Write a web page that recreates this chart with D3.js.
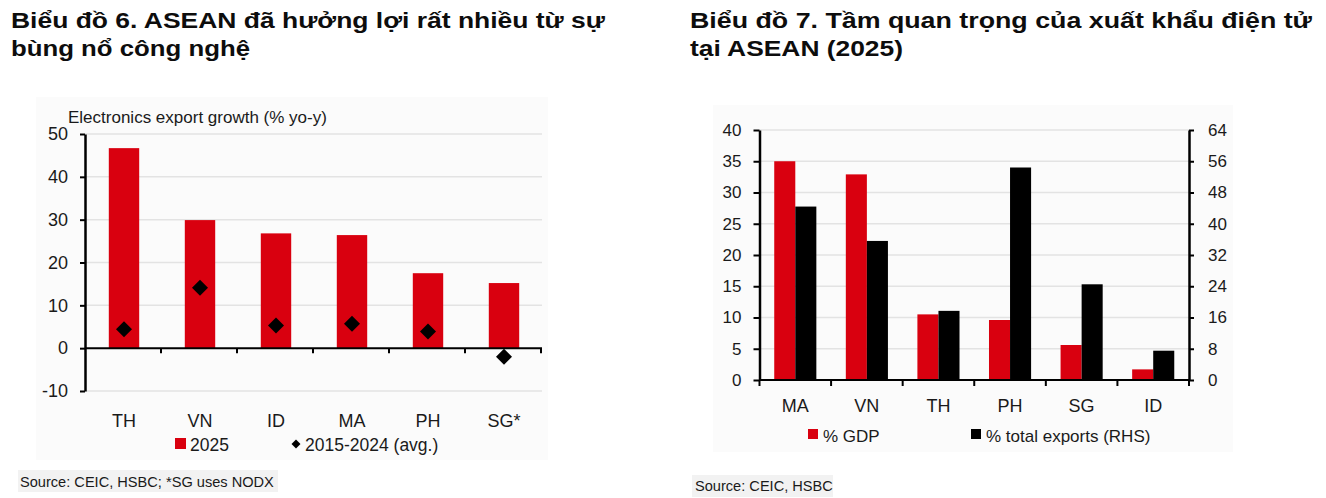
<!DOCTYPE html>
<html><head><meta charset="utf-8">
<script src="https://cdn.jsdelivr.net/npm/d3@7"></script>
<style>
body{margin:0;background:#fff}
svg{display:block}
text{font-family:"Liberation Sans",Arial,sans-serif;fill:#1a1a1a}
.title{font-family:"Liberation Sans",Arial,sans-serif;font-weight:700;font-size:22.5px;fill:#0d0d0d}
</style>
</head><body>
<svg id="c" width="1326" height="498"></svg>
<script>
// ---------- data ----------
const cats1 = ["TH", "VN", "ID", "MA", "PH", "SG*"];
const growth2025 = [46.7, 29.9, 26.8, 26.4, 17.5, 15.2];
const avg2015_2024 = [4.4, 14.1, 5.3, 5.7, 3.9, -2.0];
const yTicks1 = [-10, 0, 10, 20, 30, 40, 50];

const cats2 = ["MA", "VN", "TH", "PH", "SG", "ID"];
const pctGDP = [35.0, 32.9, 10.5, 9.6, 5.6, 1.7];
const pctExports = [44.4, 35.6, 17.7, 54.4, 24.5, 7.5];
const yTicks2L = [0, 5, 10, 15, 20, 25, 30, 35, 40];
const yTicks2R = [0, 8, 16, 24, 32, 40, 48, 56, 64];

const title1 = ["Biểu đồ 6. ASEAN đã hưởng lợi rất nhiều từ sự", "bùng nổ công nghệ"];
const title2 = ["Biểu đồ 7. Tầm quan trọng của xuất khẩu điện tử", "tại ASEAN (2025)"];
const axisTitle1 = "Electronics export growth (% yo-y)";
const legend1 = ["2025", "2015-2024 (avg.)"];
const legend2 = ["% GDP", "% total exports (RHS)"];
const source1 = "Source: CEIC, HSBC; *SG uses NODX";
const source2 = "Source: CEIC, HSBC";

const RED = "#d9000f", BLACK = "#000", GRID = "#e3e3e3";
const fmt = d => String(d);

const svg = d3.select("#c");
svg.append("rect").attr("width", 1326).attr("height", 498).attr("fill", "#fff");

// panel backgrounds
svg.append("rect").attr("x", 36).attr("y", 97).attr("width", 512).attr("height", 363).attr("fill", "#fbfbfb");
svg.append("rect").attr("x", 713).attr("y", 105).attr("width", 520).attr("height", 347).attr("fill", "#fbfbfb");

// titles
function title(lines, x, widths) {
  lines.forEach((t, i) => svg.append("text").attr("class", "title")
    .attr("x", x).attr("y", 28 + i * 28)
    .attr("textLength", widths[i]).attr("lengthAdjust", "spacingAndGlyphs").text(t));
}
title(title1, 11, [594, 239]);
title(title2, 690, [622, 213]);

// ---------- Chart 1 ----------
const x1 = d3.scaleBand().domain(cats1).range([85, 541]);
const y1 = d3.scaleLinear().domain([-10, 50]).range([391, 134]);
const g1 = svg.append("g");

g1.selectAll("line.grid").data(yTicks1.filter(d => d !== 0)).join("line")
  .attr("x1", 85).attr("x2", 542).attr("y1", d => y1(d)).attr("y2", d => y1(d))
  .attr("stroke", GRID).attr("stroke-width", 1.5);

const bw1 = x1.bandwidth() * 0.4;
g1.selectAll("rect.bar").data(cats1).join("rect")
  .attr("x", d => x1(d) + x1.bandwidth() / 2 - bw1 / 2 + 1)
  .attr("width", bw1)
  .attr("y", (d, i) => y1(Math.max(0, growth2025[i])))
  .attr("height", (d, i) => Math.abs(y1(growth2025[i]) - y1(0)))
  .attr("fill", RED);

// x axis at zero
g1.append("line").attr("x1", 85).attr("x2", 542).attr("y1", y1(0)).attr("y2", y1(0))
  .attr("stroke", "#000").attr("stroke-width", 2);
g1.selectAll("line.xt").data(cats1).join("line")
  .attr("x1", d => x1(d) + x1.bandwidth()).attr("x2", d => x1(d) + x1.bandwidth())
  .attr("y1", y1(0)).attr("y2", y1(0) + 5).attr("stroke", "#000").attr("stroke-width", 2);

// y axis
const ax1 = g1.append("g").attr("transform", "translate(85,0)")
  .call(d3.axisLeft(y1).tickValues(yTicks1).tickFormat(fmt).tickSize(5).tickSizeOuter(0).tickPadding(12));
ax1.select(".domain").attr("stroke", "#000").attr("stroke-width", 2.5);
ax1.selectAll(".tick line").attr("stroke", "#000").attr("stroke-width", 2);
ax1.selectAll(".tick text").attr("font-size", 18).attr("font-family", "Liberation Sans, Arial, sans-serif").attr("fill", "#1a1a1a");

// diamonds
const diamond = d3.symbol(d3.symbolSquare, 128);
g1.selectAll("path.dia").data(cats1).join("path")
  .attr("d", diamond)
  .attr("transform", (d, i) => `translate(${x1(d) + x1.bandwidth() / 2 + 1},${y1(avg2015_2024[i])}) rotate(45)`)
  .attr("fill", "#000");

// category labels
g1.selectAll("text.cat").data(cats1).join("text")
  .attr("x", d => x1(d) + x1.bandwidth() / 2 + 1).attr("y", 427)
  .attr("text-anchor", "middle").attr("font-size", 18).text(d => d);

// axis title
g1.append("text").attr("x", 68).attr("y", 123).attr("font-size", 17).text(axisTitle1);

// legend
g1.append("rect").attr("x", 175).attr("y", 438).attr("width", 11).attr("height", 11).attr("fill", RED);
g1.append("text").attr("x", 190).attr("y", 451).attr("font-size", 17.5).text(legend1[0]);
g1.append("path").attr("d", d3.symbol(d3.symbolSquare, 40)).attr("transform", "translate(296,444) rotate(45)").attr("fill", "#000");
g1.append("text").attr("x", 305).attr("y", 451).attr("font-size", 17.5).text(legend1[1]);

// source
svg.append("rect").attr("x", 18).attr("y", 470).attr("width", 260).attr("height", 22).attr("fill", "#f2f2f2");
svg.append("text").attr("x", 20).attr("y", 487).attr("font-size", 14.6).attr("fill", "#222").text(source1);

// ---------- Chart 2 ----------
const x2 = d3.scaleBand().domain(cats2).range([759.5, 1189]);
const xs = d3.scaleBand().domain(["gdp", "exp"]).range([0, x2.bandwidth()]).paddingOuter(0.7);
const y2L = d3.scaleLinear().domain([0, 40]).range([380, 130]);
const y2R = d3.scaleLinear().domain([0, 64]).range([380, 130]);
const g2 = svg.append("g");

g2.selectAll("line.grid").data(yTicks2L.filter(d => d !== 0)).join("line")
  .attr("x1", 759.5).attr("x2", 1189).attr("y1", d => y2L(d)).attr("y2", d => y2L(d))
  .attr("stroke", GRID).attr("stroke-width", 1.5);

g2.selectAll("rect.gdp").data(cats2).join("rect")
  .attr("x", d => x2(d) + xs("gdp")).attr("width", xs.bandwidth())
  .attr("y", (d, i) => y2L(pctGDP[i])).attr("height", (d, i) => y2L(0) - y2L(pctGDP[i]))
  .attr("fill", RED);
g2.selectAll("rect.exp").data(cats2).join("rect")
  .attr("x", d => x2(d) + xs("exp")).attr("width", xs.bandwidth())
  .attr("y", (d, i) => y2R(pctExports[i])).attr("height", (d, i) => y2R(0) - y2R(pctExports[i]))
  .attr("fill", BLACK);

g2.append("line").attr("x1", 759.5).attr("x2", 1189).attr("y1", 380).attr("y2", 380)
  .attr("stroke", "#000").attr("stroke-width", 2);
g2.selectAll("line.xt").data([0].concat(cats2.map((d, i) => i + 1))).join("line")
  .attr("x1", i => 759.5 + i * x2.step()).attr("x2", i => 759.5 + i * x2.step())
  .attr("y1", 380).attr("y2", 386).attr("stroke", "#000").attr("stroke-width", 2);

const axL = g2.append("g").attr("transform", "translate(759.5,0)")
  .call(d3.axisLeft(y2L).tickValues(yTicks2L).tickFormat(fmt).tickSize(6).tickSizeOuter(0).tickPadding(12));
const axR = g2.append("g").attr("transform", "translate(1189,0)")
  .call(d3.axisRight(y2R).tickValues(yTicks2R).tickFormat(fmt).tickSize(5).tickSizeOuter(0).tickPadding(14));
[axL, axR].forEach(a => {
  a.select(".domain").attr("stroke", "#000").attr("stroke-width", 2.5);
  a.selectAll(".tick line").attr("stroke", "#000").attr("stroke-width", 2);
  a.selectAll(".tick text").attr("font-size", 17).attr("font-family", "Liberation Sans, Arial, sans-serif").attr("fill", "#1a1a1a");
});

g2.selectAll("text.cat").data(cats2).join("text")
  .attr("x", d => x2(d) + x2.bandwidth() / 2).attr("y", 412)
  .attr("text-anchor", "middle").attr("font-size", 18).text(d => d);

g2.append("rect").attr("x", 808).attr("y", 429).attr("width", 10).attr("height", 10).attr("fill", RED);
g2.append("text").attr("x", 823).attr("y", 442).attr("font-size", 17).text(legend2[0]);
g2.append("rect").attr("x", 971).attr("y", 429).attr("width", 10).attr("height", 10).attr("fill", BLACK);
g2.append("text").attr("x", 986).attr("y", 442).attr("font-size", 17).text(legend2[1]);

svg.append("rect").attr("x", 692).attr("y", 475).attr("width", 141).attr("height", 22).attr("fill", "#f2f2f2");
svg.append("text").attr("x", 695).attr("y", 491).attr("font-size", 14.6).attr("fill", "#222").text(source2);
</script>
</body></html>
